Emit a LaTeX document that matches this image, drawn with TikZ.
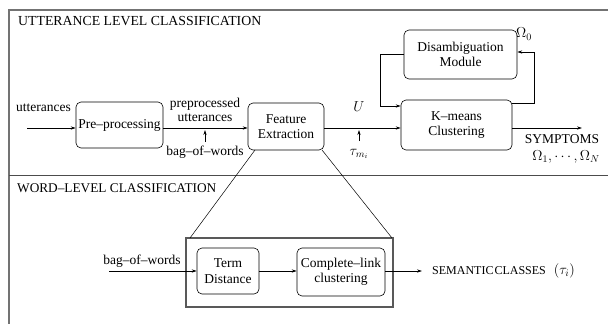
\documentclass[tikz,border=0pt]{standalone}
\usepackage{fontspec}
\setmainfont{Liberation Serif}
\usetikzlibrary{arrows.meta}
\begin{document}
\begin{tikzpicture}[x=1pt,y=-1pt,
  every node/.style={font=\fontsize{13.5}{14.5}\selectfont, inner sep=0pt},
  blk/.style={draw, rounded corners=5pt, line width=0.6pt, align=center},
  arr/.style={-{Stealth[length=5pt,width=3.2pt]}, line width=0.6pt},
  frame/.style={draw=black!55, line width=1.5pt},
  lbl/.style={align=center},
  mth/.style={font=\fontsize{14.4}{15}\selectfont}]
\useasboundingbox (0,0) rectangle (608,324);
% frame
\draw[frame] (9,324) -- (9,10) -- (608,10);
\draw[draw=black!70, line width=1pt] (9,175) -- (608,175);
\node[anchor=base west, font=\fontsize{13.8}{14.5}\selectfont] (t1) at (18,25.5) {UTTERANCE LEVEL CLASSIFICATION};
\node[anchor=base west, font=\fontsize{13.3}{14.5}\selectfont] (t2) at (17,192.5) {WORD--LEVEL CLASSIFICATION};
% upper blocks
\node[blk, minimum width=87pt, minimum height=46pt] (pre) at (119.5,125) {Pre--processing};
\node[blk, minimum width=76pt, minimum height=47pt] (fe) at (286,126.5) {Feature\\[1pt]Extraction};
\node[blk, minimum width=113pt, minimum height=49pt] (dis) at (460.5,54.5) {Disambiguation\\[1pt]Module};
\node[blk, minimum width=111pt, minimum height=50pt] (km) at (456.5,125) {K--means\\[1pt]Clustering};
% labels
\node (utt) at (43.5,108) {utterances};
\coordinate (uin) at (27,128);
\node[lbl] (ppu) at (205,110) {preprocessed\\utterances};
\node (bow1) at (205,152) {bag--of--words};
\node[mth] (U) at (359,107) {$U$};
\node[mth] (tau) at (359,154) {$\tau_{m_i}$};
\node[mth] (om0) at (524,34) {$\Omega_0$};
\node (sym) at (562,139) {SYMPTOMS};
\node[mth] (omN) at (566,157) {$\Omega_1,\cdots,\Omega_N$};
\coordinate (kout) at (582,128);
% upper connectors
\draw[arr] (205,142) -- (205,130);
\draw[arr] (uin) -- (pre.west |- uin);
\draw[arr] (pre.east |- uin) -- (fe.west |- uin);
\draw[arr] (fe.east |- uin) -- (km.west |- uin);
\draw[arr] (359,141) -- (359,130);
\draw[arr] (km.east |- kout) -- (kout);
\draw[arr] (km.east |- 0,103) -- (534,103) -- (534,52) -- (dis.east |- 0,52);
\draw[arr] (dis.west |- 0,54) -- (380,54) -- (380,106) -- (km.west |- 0,106);
% lower part
\draw[draw=black!65, line width=1.2pt] (186,238) rectangle (393,307);
\coordinate (bbl) at (190,238);
\coordinate (bbr) at (392,238);
\draw[line width=0.5pt] (255,150) -- (bbl);
\draw[line width=0.5pt] (322,150) -- (bbr);
\node[blk, minimum width=62pt, minimum height=46pt] (td) at (228,271) {Term\\[1pt]Distance};
\node[blk, minimum width=88pt, minimum height=48pt] (cl) at (341,272) {Complete--link\\[1pt]clustering};
\node (bow2) at (142,261) {bag--of--words};
\coordinate (bin) at (109,271);
\coordinate (cout) at (422,271);
\draw[arr] (bin) -- (td.west |- bin);
\draw[arr] (td.east |- bin) -- (cl.west |- bin);
\draw[arr] (cl.east |- cout) -- (cout);
\node[anchor=west] (sem) at (432,271) {{\fontsize{12}{13}\selectfont SEMANTIC\kern1pt CLASSES}\hspace{8pt}{\fontsize{14.4}{15}\selectfont$(\tau_i)$}};
\end{tikzpicture}
\end{document}
